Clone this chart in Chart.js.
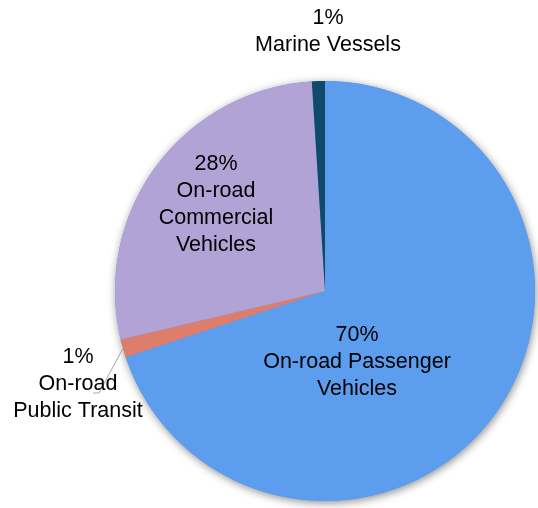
<!DOCTYPE html>
<html>
<head>
<meta charset="utf-8">
<script src="https://cdn.jsdelivr.net/npm/chart.js@4/dist/chart.umd.min.js"></script>
<style>
  html, body { margin: 0; padding: 0; background: #fff; }
  #wrap { width: 538px; height: 508px; }
</style>
</head>
<body>
<div id="wrap"><canvas id="pieChart"></canvas></div>
<script>
// data
const categories = ['On-road Passenger Vehicles', 'On-road Public Transit', 'On-road Commercial Vehicles', 'Marine Vessels'];
const labelLines = [['On-road Passenger', 'Vehicles'], ['On-road', 'Public Transit'], ['On-road', 'Commercial', 'Vehicles'], ['Marine Vessels']];
const shares = [69.9, 1.4, 27.7, 1.0];
const sliceColors = ['#5C9DEE', '#DD7D6B', '#B2A3D7', '#0F4A6B'];

// label placement, offset of block centre from pie centre (px)
const labelOffsets = [[32, 71], [-247, 93], [-109, -86], [3, -259]];

const pieShadow = {
  id: 'pieShadow',
  beforeDatasetsDraw(chart) {
    const arc = chart.getDatasetMeta(0).data[0];
    const ctx = chart.ctx;
    ctx.save();
    ctx.shadowColor = 'rgba(0,0,0,0.45)';
    ctx.shadowBlur = 8;
    ctx.shadowOffsetX = 1;
    ctx.shadowOffsetY = 2;
    ctx.fillStyle = sliceColors[0];
    ctx.beginPath();
    ctx.arc(arc.x, arc.y, arc.outerRadius, 0, Math.PI * 2);
    ctx.fill();
    ctx.restore();
  }
};

const pieLabels = {
  id: 'pieLabels',
  afterDatasetsDraw(chart) {
    const meta = chart.getDatasetMeta(0);
    const ctx = chart.ctx;
    const cx = meta.data[0].x, cy = meta.data[0].y;
    ctx.save();
    // leader line for the small transit slice
    const a = meta.data[1];
    const mid = (a.startAngle + a.endAngle) / 2;
    ctx.strokeStyle = '#A6A6A6';
    ctx.lineWidth = 1;
    ctx.beginPath();
    ctx.moveTo(a.x + Math.cos(mid) * a.outerRadius, a.y + Math.sin(mid) * a.outerRadius);
    ctx.lineTo(cx - 226, cy + 102);
    ctx.lineTo(cx - 232, cy + 102);
    ctx.stroke();

    ctx.font = '21.5px "Liberation Sans", Arial, sans-serif';
    ctx.fillStyle = '#000';
    ctx.textAlign = 'center';
    ctx.textBaseline = 'middle';
    const lh = 27;
    shares.forEach((v, i) => {
      const lines = [Math.round(v) + '%'].concat(labelLines[i]);
      const x = cx + labelOffsets[i][0];
      const y0 = cy + labelOffsets[i][1] - (lines.length - 1) * lh / 2;
      lines.forEach((t, j) => ctx.fillText(t, x, y0 + j * lh));
    });
    ctx.restore();
  }
};

new Chart(document.getElementById('pieChart'), {
  type: 'pie',
  data: {
    labels: categories,
    datasets: [{
      data: shares,
      backgroundColor: sliceColors,
      borderWidth: 0
    }]
  },
  options: {
    responsive: true,
    maintainAspectRatio: false,
    animation: false,
    layout: { padding: { top: 81, bottom: 7, left: 115, right: 3 } },
    plugins: {
      legend: { display: false },
      tooltip: { enabled: false }
    }
  },
  plugins: [pieShadow, pieLabels]
});
</script>
</body>
</html>
